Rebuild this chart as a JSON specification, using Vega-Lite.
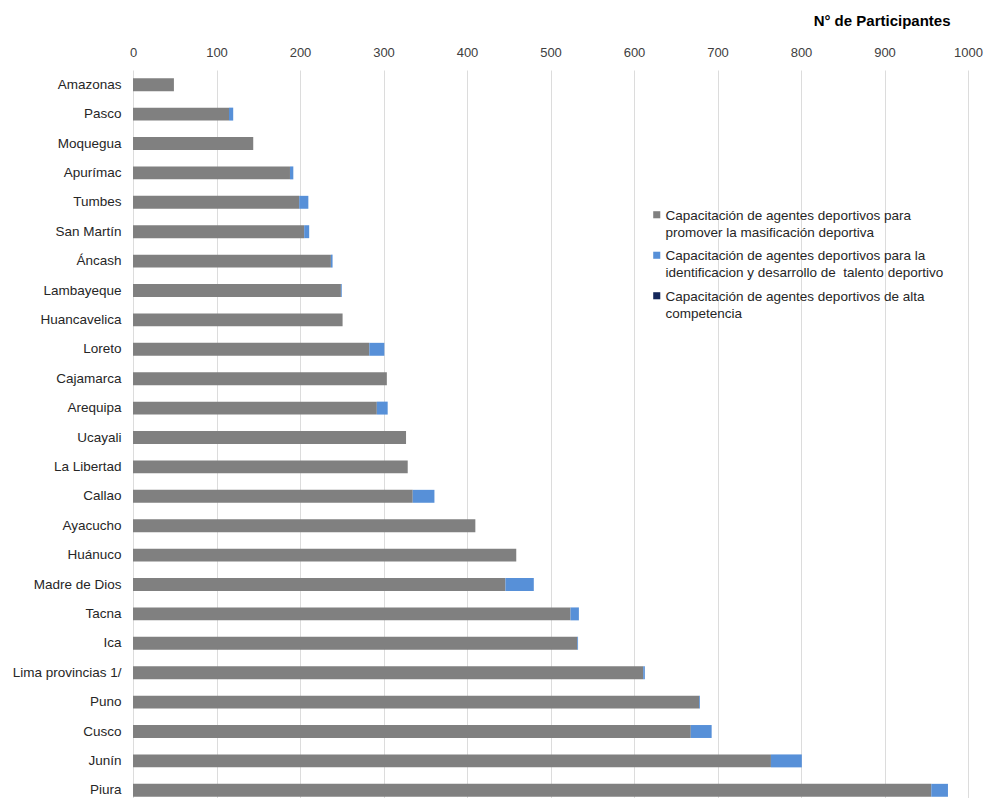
{
  "$schema": "https://vega.github.io/schema/vega-lite/v6.json",
  "autosize": "none",
  "width": 835,
  "height": 735,
  "padding": {"left": 133, "top": 70, "right": 17, "bottom": 0},
  "background": "white",
  "config": {
    "font": "Liberation Sans",
    "view": {"stroke": null}
  },
  "data": {
    "values": [
      {"region": "Amazonas", "serie": "A", "orden": 1, "valor": 49},
      {"region": "Amazonas", "serie": "B", "orden": 2, "valor": 0},
      {"region": "Amazonas", "serie": "C", "orden": 3, "valor": 0},
      {"region": "Pasco", "serie": "A", "orden": 1, "valor": 115},
      {"region": "Pasco", "serie": "B", "orden": 2, "valor": 5},
      {"region": "Moquegua", "serie": "A", "orden": 1, "valor": 144},
      {"region": "Apurímac", "serie": "A", "orden": 1, "valor": 188},
      {"region": "Apurímac", "serie": "B", "orden": 2, "valor": 4},
      {"region": "Tumbes", "serie": "A", "orden": 1, "valor": 199},
      {"region": "Tumbes", "serie": "B", "orden": 2, "valor": 11},
      {"region": "San Martín", "serie": "A", "orden": 1, "valor": 205},
      {"region": "San Martín", "serie": "B", "orden": 2, "valor": 6},
      {"region": "Áncash", "serie": "A", "orden": 1, "valor": 237},
      {"region": "Áncash", "serie": "B", "orden": 2, "valor": 2},
      {"region": "Lambayeque", "serie": "A", "orden": 1, "valor": 249},
      {"region": "Lambayeque", "serie": "B", "orden": 2, "valor": 1},
      {"region": "Huancavelica", "serie": "A", "orden": 1, "valor": 251},
      {"region": "Loreto", "serie": "A", "orden": 1, "valor": 283},
      {"region": "Loreto", "serie": "B", "orden": 2, "valor": 18},
      {"region": "Cajamarca", "serie": "A", "orden": 1, "valor": 304},
      {"region": "Arequipa", "serie": "A", "orden": 1, "valor": 292},
      {"region": "Arequipa", "serie": "B", "orden": 2, "valor": 13},
      {"region": "Ucayali", "serie": "A", "orden": 1, "valor": 327},
      {"region": "La Libertad", "serie": "A", "orden": 1, "valor": 329},
      {"region": "Callao", "serie": "A", "orden": 1, "valor": 335},
      {"region": "Callao", "serie": "B", "orden": 2, "valor": 26},
      {"region": "Ayacucho", "serie": "A", "orden": 1, "valor": 410},
      {"region": "Huánuco", "serie": "A", "orden": 1, "valor": 459},
      {"region": "Madre de Dios", "serie": "A", "orden": 1, "valor": 446},
      {"region": "Madre de Dios", "serie": "B", "orden": 2, "valor": 34},
      {"region": "Tacna", "serie": "A", "orden": 1, "valor": 524},
      {"region": "Tacna", "serie": "B", "orden": 2, "valor": 10},
      {"region": "Ica", "serie": "A", "orden": 1, "valor": 532},
      {"region": "Ica", "serie": "B", "orden": 2, "valor": 1},
      {"region": "Lima provincias 1/", "serie": "A", "orden": 1, "valor": 611},
      {"region": "Lima provincias 1/", "serie": "B", "orden": 2, "valor": 2},
      {"region": "Puno", "serie": "A", "orden": 1, "valor": 678},
      {"region": "Puno", "serie": "B", "orden": 2, "valor": 1},
      {"region": "Cusco", "serie": "A", "orden": 1, "valor": 668},
      {"region": "Cusco", "serie": "B", "orden": 2, "valor": 25},
      {"region": "Junín", "serie": "A", "orden": 1, "valor": 764},
      {"region": "Junín", "serie": "B", "orden": 2, "valor": 37},
      {"region": "Piura", "serie": "A", "orden": 1, "valor": 956},
      {"region": "Piura", "serie": "B", "orden": 2, "valor": 20}
    ]
  },
  "mark": {"type": "bar"},
  "encoding": {
    "y": {
      "field": "region",
      "type": "nominal",
      "sort": null,
      "scale": {"paddingInner": 0.56, "paddingOuter": 0.28},
      "axis": {
        "title": null,
        "ticks": false,
        "domain": false,
        "labelFontSize": 13.5,
        "labelColor": "#262626",
        "labelPadding": 12
      }
    },
    "x": {
      "field": "valor",
      "type": "quantitative",
      "stack": "zero",
      "scale": {"domain": [0, 1000], "nice": false},
      "axis": {
        "orient": "top",
        "values": [0, 100, 200, 300, 400, 500, 600, 700, 800, 900, 1000],
        "format": "d",
        "title": "N° de Participantes",
        "titleFontSize": 15,
        "titleFontWeight": "bold",
        "titleColor": "#000000",
        "titleAnchor": "end",
        "titleAlign": "right",
        "titleX": 817,
        "titleY": -50,
        "titleBaseline": "middle",
        "ticks": false,
        "domain": false,
        "labelFontSize": 13,
        "labelColor": "#404040",
        "labelPadding": 11,
        "labelFlush": false,
        "labelOverlap": false,
        "grid": true,
        "gridColor": "#DCDCDC",
        "gridWidth": 1
      }
    },
    "color": {
      "field": "serie",
      "type": "nominal",
      "scale": {
        "domain": ["A", "B", "C"],
        "range": ["#808080", "#5790D8", "#14275A"]
      },
      "legend": {
        "orient": "none",
        "legendX": 517,
        "legendY": 138,
        "title": null,
        "symbolType": "square",
        "symbolSize": 50,
        "symbolStrokeWidth": 0,
        "labelFontSize": 13.5,
        "labelColor": "#262626",
        "labelLimit": 400,
        "rowPadding": 8.5,
        "labelOffset": 2,
        "labelBaseline": "top",
        "encode": {"labels": {"update": {"lineHeight": {"value": 17}, "dy": {"value": -6}}}},
        "labelExpr": "datum.value == 'A' ? ['Capacitación de agentes deportivos para', 'promover la masificación deportiva'] : datum.value == 'B' ? ['Capacitación de agentes deportivos para la', 'identificacion y desarrollo de\u00a0 talento deportivo'] : ['Capacitación de agentes deportivos de alta', 'competencia']"
      }
    },
    "order": {"field": "orden", "type": "quantitative"}
  }
}
